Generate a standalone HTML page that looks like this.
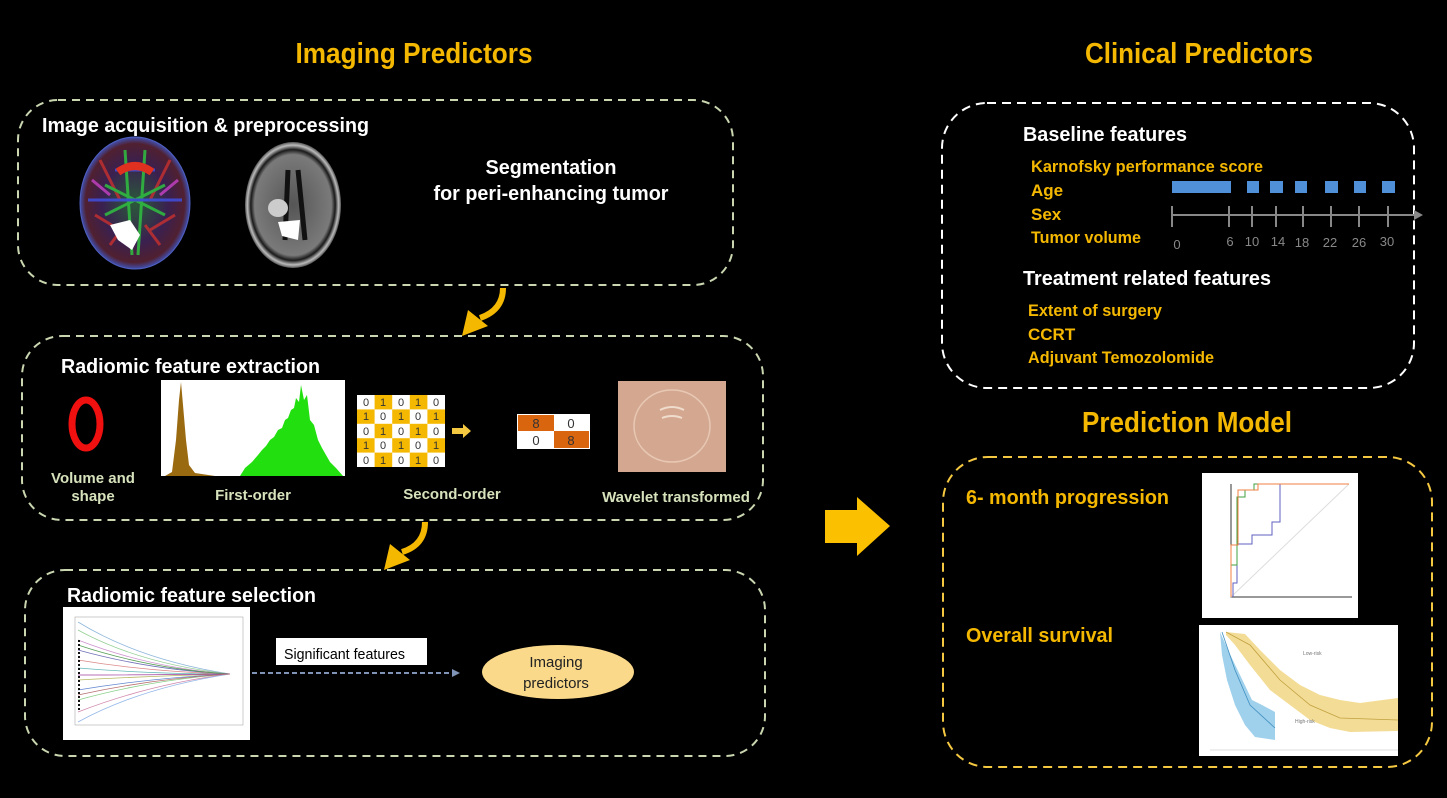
<!DOCTYPE html>
<html><head><meta charset="utf-8"><style>
html,body{margin:0;padding:0;background:#000;}
svg{display:block;}
text{font-family:"Liberation Sans",Arial,sans-serif;font-weight:bold;}
.w{fill:#fff;font-size:20px;}
.g{fill:#f5b800;font-size:17px;}
.t{fill:#f5b800;font-size:29px;}
.lg{fill:#d6e2bc;font-size:15px;}
</style></head><body>
<svg width="1447" height="798" viewBox="0 0 1447 798" xmlns="http://www.w3.org/2000/svg">
<defs>
<radialGradient id="br" cx="50%" cy="50%" r="50%">
<stop offset="0" stop-color="#2a5a3a"/><stop offset="0.6" stop-color="#3a2050"/><stop offset="0.9" stop-color="#502030"/><stop offset="1" stop-color="#4050b0"/></radialGradient>
<radialGradient id="gb" cx="50%" cy="50%" r="50%">
<stop offset="0" stop-color="#555"/><stop offset="0.8" stop-color="#7a7a7a"/><stop offset="0.88" stop-color="#1a1a1a"/><stop offset="0.95" stop-color="#bbb"/><stop offset="1" stop-color="#555"/></radialGradient>
</defs>

<!-- Titles -->
<text class="t" x="414" y="63" text-anchor="middle" textLength="237" lengthAdjust="spacingAndGlyphs">Imaging Predictors</text>
<text class="t" x="1199" y="63" text-anchor="middle" textLength="228" lengthAdjust="spacingAndGlyphs">Clinical Predictors</text>
<text class="t" x="1187" y="432" text-anchor="middle" textLength="210" lengthAdjust="spacingAndGlyphs">Prediction Model</text>

<!-- Left boxes -->
<rect x="18" y="100" width="715" height="185" rx="40" fill="none" stroke="#c9d6b0" stroke-width="2" stroke-dasharray="8 6"/>
<rect x="22" y="336" width="741" height="184" rx="40" fill="none" stroke="#c9d6b0" stroke-width="2" stroke-dasharray="8 6"/>
<rect x="25" y="570" width="740" height="186" rx="40" fill="none" stroke="#c9d6b0" stroke-width="2" stroke-dasharray="8 6"/>

<!-- Right boxes -->
<rect x="942" y="103" width="472" height="285" rx="45" fill="none" stroke="#fff" stroke-width="2" stroke-dasharray="9 6"/>
<rect x="943" y="457" width="489" height="310" rx="45" fill="none" stroke="#f5c842" stroke-width="2" stroke-dasharray="9 6"/>

<!-- Box 1 content -->
<text class="w" x="42" y="132" textLength="327" lengthAdjust="spacingAndGlyphs">Image acquisition &amp; preprocessing</text>
<ellipse cx="135" cy="203" rx="55" ry="66" fill="url(#br)" stroke="#5060c0" stroke-width="1"/>
<g fill="none" stroke-width="3" opacity="0.85">
<path d="M100 160 L120 200 M170 160 L150 200 M95 215 L120 230 M175 215 L150 230 M110 245 L125 225 M160 245 L145 225" stroke="#c03030"/>
<path d="M125 150 L132 255 M145 150 L138 255 M105 185 L165 215 M165 185 L105 215" stroke="#30c040"/>
<path d="M88 200 L182 200 M115 170 L155 170" stroke="#4050e0"/>
<path d="M92 180 L110 195 M178 180 L160 195" stroke="#c040c0"/>
</g>
<path d="M118 172 Q135 160 152 172" stroke="#e03020" stroke-width="8" fill="none"/>
<path d="M110 225 L130 220 L140 235 L132 250 L118 240 Z" fill="#fff"/>
<ellipse cx="293" cy="205" rx="48" ry="63" fill="url(#gb)"/>
<path d="M288 170 L285 240 M298 170 L305 240" stroke="#111" stroke-width="5"/>
<ellipse cx="278" cy="208" rx="10" ry="9" fill="#ccc"/>
<path d="M278 222 L300 220 L298 240 L282 236 Z" fill="#fff"/>
<text class="w" x="551" y="174" text-anchor="middle" textLength="131" lengthAdjust="spacingAndGlyphs">Segmentation</text>
<text class="w" x="551" y="200" text-anchor="middle" textLength="235" lengthAdjust="spacingAndGlyphs">for peri-enhancing tumor</text>

<!-- curved arrows -->
<path d="M503 288 Q503 310 480 318" stroke="#f5b800" stroke-width="6" fill="none"/>
<polygon points="462,336 468,310 488,326" fill="#f5b800"/>
<path d="M425 522 Q425 545 402 552" stroke="#f5b800" stroke-width="6" fill="none"/>
<polygon points="384,570 390,544 410,560" fill="#f5b800"/>

<!-- Box 2 content -->
<text class="w" x="61" y="373" textLength="259" lengthAdjust="spacingAndGlyphs">Radiomic feature extraction</text>
<ellipse cx="86" cy="424" rx="14" ry="24" fill="none" stroke="#f01010" stroke-width="7"/>
<text class="lg" x="93" y="483" text-anchor="middle">Volume and</text>
<text class="lg" x="93" y="501" text-anchor="middle">shape</text>
<rect x="161" y="380" width="184" height="96" fill="#fff"/>
<path d="M240 476 L245 468 L252 462 L258 455 L262 450 L266 446 L270 440 L274 437 L278 430 L282 428 L285 420 L288 418 L291 410 L294 408 L296 398 L299 402 L301 385 L304 400 L307 395 L310 420 L314 425 L318 440 L322 448 L326 455 L330 462 L336 468 L343 476 Z" fill="#22e010"/>
<path d="M165 476 L172 472 L176 440 L179 400 L181 382 L183 405 L186 440 L189 465 L195 473 L215 476 Z" fill="#9a6a10"/>
<text class="lg" x="253" y="500" text-anchor="middle">First-order</text>
<g font-family="Liberation Sans" font-size="11">
<rect x="357" y="395" width="88" height="72" fill="#fff"/>
<g fill="#f5b800">
<rect x="374.6" y="395" width="17.6" height="14.4"/><rect x="409.8" y="395" width="17.6" height="14.4"/>
<rect x="357" y="409.4" width="17.6" height="14.4"/><rect x="392.2" y="409.4" width="17.6" height="14.4"/><rect x="427.4" y="409.4" width="17.6" height="14.4"/>
<rect x="374.6" y="423.8" width="17.6" height="14.4"/><rect x="409.8" y="423.8" width="17.6" height="14.4"/>
<rect x="357" y="438.2" width="17.6" height="14.4"/><rect x="392.2" y="438.2" width="17.6" height="14.4"/><rect x="427.4" y="438.2" width="17.6" height="14.4"/>
<rect x="374.6" y="452.6" width="17.6" height="14.4"/><rect x="409.8" y="452.6" width="17.6" height="14.4"/>
</g>
<g fill="#333" text-anchor="middle">
<text x="366" y="406" style="font-weight:normal">0</text><text x="383" y="406" style="font-weight:normal">1</text><text x="401" y="406" style="font-weight:normal">0</text><text x="418" y="406" style="font-weight:normal">1</text><text x="436" y="406" style="font-weight:normal">0</text>
<text x="366" y="420" style="font-weight:normal">1</text><text x="383" y="420" style="font-weight:normal">0</text><text x="401" y="420" style="font-weight:normal">1</text><text x="418" y="420" style="font-weight:normal">0</text><text x="436" y="420" style="font-weight:normal">1</text>
<text x="366" y="435" style="font-weight:normal">0</text><text x="383" y="435" style="font-weight:normal">1</text><text x="401" y="435" style="font-weight:normal">0</text><text x="418" y="435" style="font-weight:normal">1</text><text x="436" y="435" style="font-weight:normal">0</text>
<text x="366" y="449" style="font-weight:normal">1</text><text x="383" y="449" style="font-weight:normal">0</text><text x="401" y="449" style="font-weight:normal">1</text><text x="418" y="449" style="font-weight:normal">0</text><text x="436" y="449" style="font-weight:normal">1</text>
<text x="366" y="464" style="font-weight:normal">0</text><text x="383" y="464" style="font-weight:normal">1</text><text x="401" y="464" style="font-weight:normal">0</text><text x="418" y="464" style="font-weight:normal">1</text><text x="436" y="464" style="font-weight:normal">0</text>
</g>
</g>
<polygon points="452,428 463,428 463,424 471,431 463,438 463,434 452,434" fill="#f5c842"/>
<rect x="517" y="414" width="73" height="35" fill="#fff"/>
<rect x="518" y="415" width="36" height="16" fill="#d9650f"/>
<rect x="554" y="431" width="35" height="17" fill="#d9650f"/>
<g font-size="13" text-anchor="middle" fill="#333">
<text x="536" y="428" style="font-weight:normal">8</text><text x="571" y="428" style="font-weight:normal">0</text>
<text x="536" y="445" style="font-weight:normal">0</text><text x="571" y="445" style="font-weight:normal">8</text>
</g>
<text class="lg" x="452" y="499" text-anchor="middle">Second-order</text>
<rect x="618" y="381" width="108" height="91" fill="#d4a890"/>
<ellipse cx="672" cy="426" rx="38" ry="36" fill="none" stroke="#e8c8b4" stroke-width="1.5"/>
<path d="M660 410 Q672 404 684 410 M662 418 Q672 414 682 418" stroke="#f0dccc" stroke-width="2" fill="none"/>
<text class="lg" x="676" y="502" text-anchor="middle">Wavelet transformed</text>

<!-- Box 3 content -->
<text class="w" x="67" y="602" textLength="249" lengthAdjust="spacingAndGlyphs">Radiomic feature selection</text>
<rect x="63" y="607" width="187" height="133" fill="#fff"/>
<rect x="75" y="617" width="168" height="108" fill="none" stroke="#aaa" stroke-width="0.6"/>
<g fill="none" stroke-width="0.8" opacity="0.75">
<path d="M78 622 Q140 660 230 674" stroke="#6aa0d0"/>
<path d="M78 630 Q140 664 230 674" stroke="#70c070"/>
<path d="M78 640 Q150 668 230 674" stroke="#c070c0"/>
<path d="M78 650 Q150 670 230 674" stroke="#4040a0"/>
<path d="M78 660 Q150 672 230 674" stroke="#d06060"/>
<path d="M78 668 Q150 674 230 674" stroke="#30a0a0"/>
<path d="M78 680 Q150 676 230 674" stroke="#a0a030"/>
<path d="M78 690 Q150 678 230 674" stroke="#3060c0"/>
<path d="M78 700 Q150 680 230 674" stroke="#60c060"/>
<path d="M78 712 Q150 684 230 674" stroke="#c06090"/>
<path d="M78 722 Q140 688 230 674" stroke="#70a0e0"/>
<path d="M78 645 Q150 669 230 674" stroke="#208020"/>
<path d="M78 675 Q150 675 230 674" stroke="#800080"/>
<path d="M78 695 Q150 679 230 674" stroke="#a04040"/>
</g>
<path d="M79 640 L79 710" stroke="#111" stroke-width="2" stroke-dasharray="2 2"/>
<rect x="276" y="638" width="151" height="27" fill="#fff"/>
<text x="284" y="659" font-size="15" fill="#000" style="font-weight:normal" textLength="121" lengthAdjust="spacingAndGlyphs">Significant  features</text>
<line x1="252" y1="673" x2="452" y2="673" stroke="#8094b8" stroke-width="2" stroke-dasharray="5 3"/>
<polygon points="452,669 460,673 452,677" fill="#8094b8"/>
<ellipse cx="558" cy="672" rx="76" ry="27" fill="#fad98a"/>
<text x="556" y="667" font-size="15" fill="#222" text-anchor="middle" style="font-weight:normal">Imaging</text>
<text x="556" y="688" font-size="15" fill="#222" text-anchor="middle" style="font-weight:normal">predictors</text>

<!-- Big arrow -->
<polygon points="825,510 857,510 857,497 890,526 857,556 857,543 825,543" fill="#fbc000"/>

<!-- Right box 1 content -->
<text class="w" x="1023" y="141" textLength="164" lengthAdjust="spacingAndGlyphs">Baseline features</text>
<text class="g" x="1031" y="172" textLength="232" lengthAdjust="spacingAndGlyphs">Karnofsky performance score</text>
<text class="g" x="1031" y="196">Age</text>
<text class="g" x="1031" y="220">Sex</text>
<text class="g" x="1031" y="243" textLength="110" lengthAdjust="spacingAndGlyphs">Tumor volume</text>
<g fill="#4f90d8">
<rect x="1172" y="181" width="59" height="12"/><rect x="1247" y="181" width="12" height="12"/><rect x="1270" y="181" width="13" height="12"/><rect x="1295" y="181" width="12" height="12"/><rect x="1325" y="181" width="13" height="12"/><rect x="1354" y="181" width="12" height="12"/><rect x="1382" y="181" width="13" height="12"/>
</g>
<g stroke="#888" stroke-width="2">
<line x1="1172" y1="215" x2="1416" y2="215"/>
<line x1="1172" y1="206" x2="1172" y2="227"/><line x1="1229" y1="206" x2="1229" y2="227"/><line x1="1252" y1="206" x2="1252" y2="227"/><line x1="1276" y1="206" x2="1276" y2="227"/><line x1="1303" y1="206" x2="1303" y2="227"/><line x1="1331" y1="206" x2="1331" y2="227"/><line x1="1359" y1="206" x2="1359" y2="227"/><line x1="1388" y1="206" x2="1388" y2="227"/>
</g>
<polygon points="1414,210 1423,215 1414,220" fill="#888"/>
<g fill="#888" font-size="13" text-anchor="middle">
<text x="1177" y="249" style="font-weight:normal">0</text><text x="1230" y="246" style="font-weight:normal">6</text><text x="1252" y="246" style="font-weight:normal">10</text><text x="1278" y="246" style="font-weight:normal">14</text><text x="1302" y="247" style="font-weight:normal">18</text><text x="1330" y="247" style="font-weight:normal">22</text><text x="1359" y="247" style="font-weight:normal">26</text><text x="1387" y="246" style="font-weight:normal">30</text>
</g>
<text class="w" x="1023" y="285" textLength="248" lengthAdjust="spacingAndGlyphs">Treatment related features</text>
<text class="g" x="1028" y="316" textLength="134" lengthAdjust="spacingAndGlyphs">Extent of surgery</text>
<text class="g" x="1028" y="340">CCRT</text>
<text class="g" x="1028" y="363" textLength="186" lengthAdjust="spacingAndGlyphs">Adjuvant  Temozolomide</text>

<!-- Right box 2 content -->
<text class="g" x="966" y="504" style="font-size:20px" textLength="203" lengthAdjust="spacingAndGlyphs">6- month progression</text>
<text class="g" x="966" y="642" style="font-size:20px" textLength="147" lengthAdjust="spacingAndGlyphs">Overall survival</text>
<rect x="1202" y="473" width="156" height="145" fill="#fff"/>
<g fill="none" stroke-width="1">
<path d="M1231 484 L1231 597 L1352 597" stroke="#333"/>
<line x1="1231" y1="597" x2="1349" y2="484" stroke="#ddd"/>
<path d="M1233 597 L1233 583 L1237 583 L1237 544 L1252 544 L1252 535 L1272 535 L1272 522 L1280 522 L1280 484 L1349 484" stroke="#6060c0"/>
<path d="M1231 597 L1231 565 L1237 565 L1237 497 L1245 497 L1245 490 L1254 490 L1254 484 L1349 484" stroke="#40a040"/>
<path d="M1231 597 L1231 545 L1238 545 L1238 490 L1258 490 L1258 484 L1349 484" stroke="#f08040"/>
</g>
<rect x="1199" y="625" width="199" height="131" fill="#fff"/>
<path d="M1226 632 L1245 634 L1260 650 L1280 670 L1300 685 L1320 695 L1340 700 L1360 703 L1398 698 L1398 731 L1350 732 L1330 728 L1310 720 L1290 705 L1270 690 L1250 665 L1235 645 L1226 635 Z" fill="#f2d88a" opacity="0.9"/>
<path d="M1220 632 L1228 650 L1240 675 L1252 700 L1262 705 L1275 712 L1275 740 L1255 737 L1245 725 L1235 705 L1227 680 L1222 655 Z" fill="#9fd0ec"/>
<path d="M1226 632 L1250 645 L1280 680 L1310 705 L1340 718 L1398 720" stroke="#c0a040" fill="none" stroke-width="0.8"/>
<path d="M1222 632 L1235 670 L1250 705 L1275 728" stroke="#4090c0" fill="none" stroke-width="0.8"/>
<line x1="1210" y1="750" x2="1398" y2="750" stroke="#bbb" stroke-width="0.6"/>
<text x="1303" y="655" font-size="5" fill="#777" style="font-weight:normal">Low-risk</text>
<text x="1295" y="723" font-size="5" fill="#777" style="font-weight:normal">High-risk</text>
</svg>
</body></html>
